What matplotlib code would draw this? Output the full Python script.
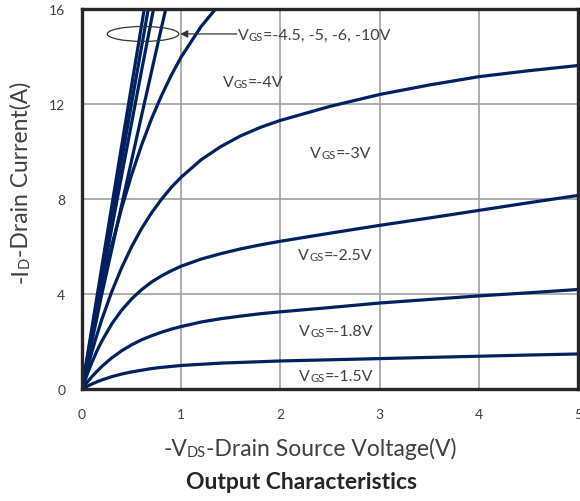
import matplotlib
matplotlib.use("Agg")
import matplotlib.pyplot as plt
from matplotlib.patches import Ellipse

plt.rcParams['font.family'] = ['Lato', 'DejaVu Sans']

# ---- data ----
vds = [0, 0.05, 0.1, 0.15, 0.2, 0.3, 0.4, 0.5, 0.6, 0.7, 0.8, 0.9, 1.0,
       1.2, 1.4, 1.6, 1.8, 2.0, 2.5, 3.0, 3.5, 4.0, 4.5, 5.0]
id_vgs_15 = [0, 0.11, 0.21, 0.30, 0.38, 0.52, 0.63, 0.72, 0.79, 0.86, 0.91, 0.95, 0.99,
             1.04, 1.09, 1.12, 1.15, 1.18, 1.23, 1.28, 1.33, 1.38, 1.43, 1.475]
id_vgs_18 = [0, 0.27, 0.52, 0.74, 0.95, 1.31, 1.61, 1.86, 2.07, 2.24, 2.39, 2.52, 2.63,
             2.82, 2.96, 3.07, 3.17, 3.25, 3.43, 3.62, 3.77, 3.92, 4.05, 4.19]
id_vgs_25 = [0, 0.59, 1.12, 1.60, 2.02, 2.74, 3.32, 3.79, 4.18, 4.50, 4.76, 4.98, 5.17,
             5.47, 5.70, 5.90, 6.07, 6.22, 6.56, 6.89, 7.20, 7.52, 7.84, 8.15]
id_vgs_30 = [0, 0.82, 1.57, 2.27, 2.93, 4.10, 5.11, 5.99, 6.75, 7.41, 7.98, 8.49, 8.92,
             9.65, 10.21, 10.66, 11.02, 11.31, 11.90, 12.40, 12.80, 13.15, 13.40, 13.62]

vds_40 = [0, 0.05, 0.1, 0.15, 0.2, 0.3, 0.4, 0.5, 0.6, 0.7, 0.8, 0.9, 1.0, 1.2, 1.4]
id_vgs_40 = [0, 1.16, 2.26, 3.30, 4.27, 6.05, 7.62, 9.02, 10.26, 11.37, 12.34, 13.21, 13.98, 15.26, 16.27]

vds_hi = [0, 0.2, 0.4, 0.6, 0.8, 0.9]
id_vgs_45 = [0, 4.0, 7.75, 11.5, 15.2, 17.0]
id_vgs_50 = [0, 4.55, 9.0, 13.4, 17.7, 19.8]
id_vgs_60 = [0, 4.85, 9.65, 14.4, 19.1, 21.4]
id_vgs_100 = [0, 5.15, 10.25, 15.3, 20.3, 22.8]

x_ticks = [0, 1, 2, 3, 4, 5]
y_ticks = [0, 4, 8, 12, 16]

curve_color = '#002060'
text_color = '#404040'

fig = plt.figure(figsize=(5.8, 5.02), dpi=100)
ax = fig.add_axes([82/580, 112/502, 496/580, 380/502])

for v, i in [(vds, id_vgs_15), (vds, id_vgs_18), (vds, id_vgs_25), (vds, id_vgs_30),
             (vds_40, id_vgs_40), (vds_hi, id_vgs_45), (vds_hi, id_vgs_50),
             (vds_hi, id_vgs_60), (vds_hi, id_vgs_100)]:
    ax.plot(v, i, color=curve_color, lw=2.3, solid_capstyle='round',
            solid_joinstyle='round', zorder=3)

ax.set_xlim(0, 5)
ax.set_ylim(0, 16)
ax.set_xticks(x_ticks)
ax.set_yticks(y_ticks)
ax.tick_params(length=0, labelsize=10, labelcolor=text_color)
ax.tick_params(axis='x', pad=14)
ax.tick_params(axis='y', pad=12)
ax.grid(True, color='#a0a0a0', lw=1.2, zorder=1)
ax.set_axisbelow(True)
for s in ax.spines.values():
    s.set_linewidth(2.4)
    s.set_color('#262626')
    s.set_zorder(5)

# ellipse + arrow for the bundle
ax.add_patch(Ellipse((0.615, 14.95), 0.72, 0.63, fill=False, lw=0.9, ec='#333333',
                     zorder=6, clip_on=False))
ax.annotate('', xy=(0.99, 14.95), xytext=(1.56, 14.95),
            arrowprops=dict(arrowstyle='-|>', color='#333333', lw=0.9, mutation_scale=11,
                            shrinkA=0, shrinkB=0), zorder=6)


def chain_text(first_artist, pieces):
    arts = [first_artist]
    prev = first_artist
    for s, fs in pieces:
        prev = ax.annotate(s, xy=(1, 0), xycoords=prev, ha='left', va='bottom',
                           fontsize=fs, color=text_color, annotation_clip=False)
        arts.append(prev)
    return arts


big, small = 11.5, 8
labels = [
    (1.57, 14.9, '=-4.5, -5, -6, -10V'),
    (1.42, 12.94, '=-4V'),
    (2.30, 9.94, '=-3V'),
    (2.18, 5.64, '=-2.5V'),
    (2.19, 2.45, '=-1.8V'),
    (2.19, 0.56, '=-1.5V'),
]
for x, y, rest in labels:
    t0 = ax.text(x, y, 'V', fontsize=big, color=text_color, ha='left', va='center', zorder=7)
    chain_text(t0, [('GS', small), (rest, big)])

# x label with small "DS"
lab_fs, sub_fs = 16.5, 10.5
tx = fig.text(157/580, (502-450)/502, '-V', fontsize=lab_fs, color=text_color,
              ha='left', va='center')
xl_arts = chain_text(tx, [('DS', sub_fs), ('-Drain Source Voltage(V)', lab_fs)])

# y label with small "D"
ty = fig.text(32/580, (502-287)/502, '-I', fontsize=lab_fs, color=text_color, rotation=90,
              ha='right', va='bottom')
yl_arts = [ty]
prev = ty
for s, fs in [('D', sub_fs), ('-Drain Current(A)', lab_fs)]:
    prev = ax.annotate(s, xy=(1, 1), xycoords=prev, ha='right', va='bottom', rotation=90,
                       fontsize=fs, color=text_color, annotation_clip=False)
    yl_arts.append(prev)

fig.text(301.5/580, (502-483)/502, 'Output Characteristics', fontsize=16.5, fontweight='bold',
         color='#262626', ha='center', va='center')

# centre the composed axis labels on the positions measured in the reference
fig.canvas.draw()
r = fig.canvas.get_renderer()
W, H = fig.bbox.width, fig.bbox.height
bbs = [a.get_window_extent(r) for a in xl_arts]
x0 = min(b.x0 for b in bbs); x1 = max(b.x1 for b in bbs)
cx = 310.0
tx.set_x(tx.get_position()[0] + (cx - (x0 + x1) / 2) / W)
bbs = [a.get_window_extent(r) for a in yl_arts]
y0 = min(b.y0 for b in bbs); y1 = max(b.y1 for b in bbs)
cy = H - 182.5
ty.set_y(ty.get_position()[1] + (cy - (y0 + y1) / 2) / H)

fig.savefig('out.png', dpi=100)
